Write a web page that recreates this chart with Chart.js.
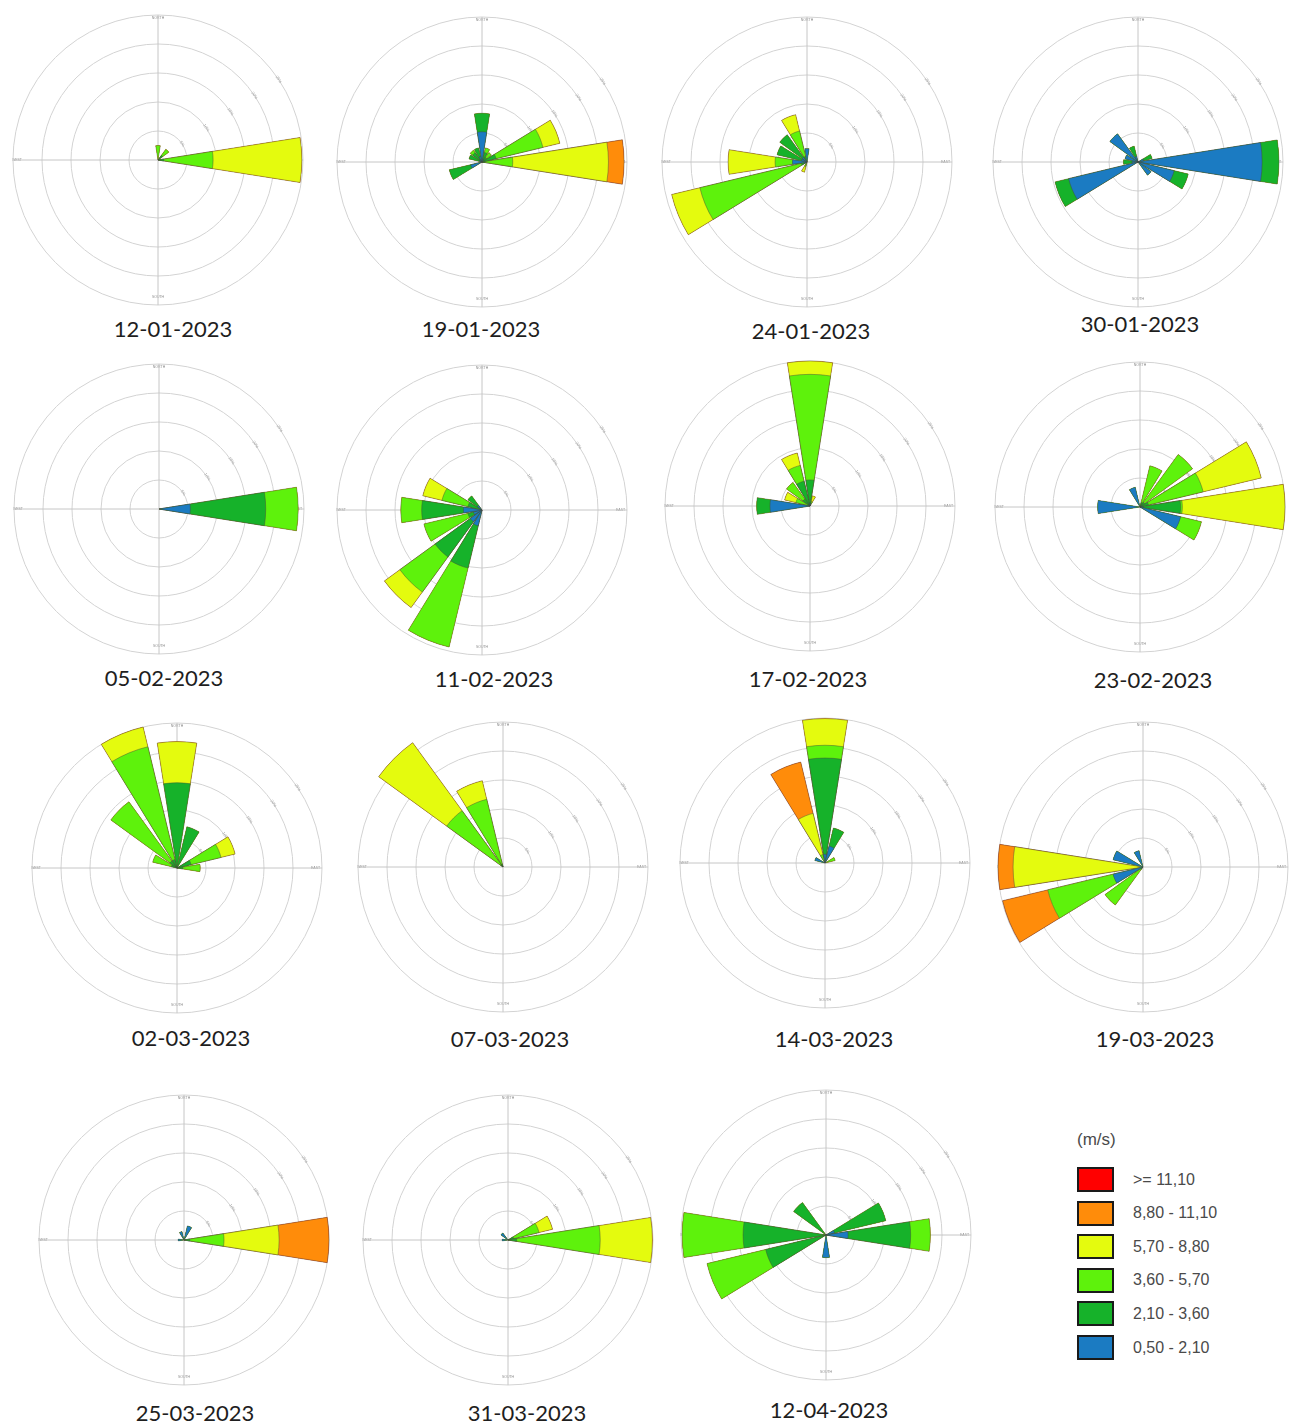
<!DOCTYPE html>
<html>
<head>
<meta charset="utf-8">
<title>Wind roses</title>
<script src="https://cdn.jsdelivr.net/npm/chart.js@4.4.1/dist/chart.umd.min.js"></script>
<style>
  html, body { margin: 0; padding: 0; background: #ffffff; }
  #page { position: relative; width: 1301px; height: 1426px; overflow: hidden; background: #ffffff; }
  canvas.rose { position: absolute; }
  .date { position: absolute; transform: translate(-50%, -50%); white-space: nowrap;
          font-family: Lato, "Open Sans", sans-serif; font-size: 22px; color: #1e1e1e; }
  .legend-title, .legend-text { position: absolute; white-space: nowrap;
          font-family: "Liberation Sans", Arial, sans-serif; color: #4a4a4a; }
  .legend-title { font-size: 17px; }
  .legend-text { font-size: 16px; transform: translateY(-50%); }
  .legend-box { position: absolute; box-sizing: border-box; border: 2px solid #1a1a1a; }
</style>
</head>
<body>
<div id="page"></div>
<script>
// ---- data -------------------------------------------------------------
const dates = ['12-01-2023', '19-01-2023', '24-01-2023', '30-01-2023',
               '05-02-2023', '11-02-2023', '17-02-2023', '23-02-2023',
               '02-03-2023', '07-03-2023', '14-03-2023', '19-03-2023',
               '25-03-2023', '31-03-2023', '12-04-2023'];

const directions = ['N', 'NNE', 'NE', 'ENE', 'E', 'ESE', 'SE', 'SSE',
                    'S', 'SSW', 'SW', 'WSW', 'W', 'WNW', 'NW', 'NNW'];

// wind speed classes (m/s), lowest first
const speedClasses = ['0,50 - 2,10', '2,10 - 3,60', '3,60 - 5,70',
                      '5,70 - 8,80', '8,80 - 11,10', '>= 11,10'];
const classColors = ['#1b7bc2', '#16b22a', '#5ef20c', '#e4fb0e', '#ff8c0a', '#ff0000'];

const compassLabels = ['NORTH', 'EAST', 'SOUTH', 'WEST'];
const ringValues = [0, 5, 10, 15, 20, 25];   // frequency rings, %

// frequency (%) by direction; columns follow speedClasses
const rose_12_01 = [
  ['N',   0,   0,   2.5, 0,    0,   0],
  ['NE',  0,   1.0, 1.3, 0,    0,   0],
  ['E',   0,   1.0, 8.5, 15.3, 0,   0]
];
const rose_19_01 = [
  ['N',   5.2, 3.2, 0,   0,    0,   0],
  ['NNE', 0.5, 1.2, 0.8, 0,    0,   0],
  ['NE',  0,   1.0, 1.0, 0,    0,   0],
  ['ENE', 0,   2.5, 8.3, 3.0,  0,   0],
  ['E',   0,   0.5, 4.8, 16.5, 2.7, 0],
  ['WSW', 2.0, 3.8, 0,   0,    0,   0],
  ['WNW', 0.5, 1.8, 0,   0,    0,   0],
  ['NW',  0.5, 1.5, 0.5, 0,    0,   0],
  ['NNW', 1.0, 1.5, 0,   0,    0,   0]
];
const rose_24_01 = [
  ['N',   2.3, 0,   0,    0,   0,   0],
  ['SSW', 0,   0,   0.8,  1.0, 0,   0],
  ['WSW', 0.5, 0.5, 18.0, 5.0, 0,   0],
  ['W',   2.5, 0,   3.0,  8.1, 0,   0],
  ['WNW', 1.0, 4.3, 0,    0,   0,   0],
  ['NW',  1.0, 4.8, 0,    0,   0,   0],
  ['NNW', 0,   1.0, 4.5,  2.9, 0,   0]
];
const rose_30_01 = [
  ['ENE', 1.0,  1.5, 0, 0, 0, 0],
  ['E',   21.4, 2.9, 0, 0, 0, 0],
  ['ESE', 6.4,  2.5, 0, 0, 0, 0],
  ['SE',  2.8,  0,   0, 0, 0, 0],
  ['WSW', 12.3, 2.4, 0, 0, 0, 0],
  ['W',   1.0,  1.5, 0, 0, 0, 0],
  ['WNW', 2.3,  0,   0, 0, 0, 0],
  ['NW',  6.0,  0,   0, 0, 0, 0],
  ['NNW', 1.0,  1.8, 0, 0, 0, 0]
];
const rose_05_02 = [
  ['E',   5.4, 13.0, 5.6, 0, 0, 0]
];
const rose_11_02 = [
  ['SSW', 2.8, 7.5, 14.0, 0,   0, 0],
  ['SW',  2.5, 7.5, 7.5,  3.3, 0, 0],
  ['WSW', 1.5, 1.0, 7.8,  0,   0, 0],
  ['W',   3.2, 7.2, 3.6,  0,   0, 0],
  ['WNW', 0,   2.5, 4.6,  3.4, 0, 0],
  ['NW',  1.0, 2.0, 0,    0,   0, 0]
];
const rose_17_02 = [
  ['N',   0.5, 4.0, 18.2, 2.3, 0, 0],
  ['NNE', 0,   0,   0.8,  1.0, 0, 0],
  ['W',   6.9, 2.3, 0,    0,   0, 0],
  ['WNW', 0,   0,   2.5,  2.0, 0, 0],
  ['NW',  0,   1.5, 3.5,  0,   0, 0],
  ['NNW', 0,   4.4, 2.8,  2.2, 0, 0]
];
const rose_23_02 = [
  ['NNE', 0,   0.8, 6.5,  0,    0, 0],
  ['NE',  0,   1.0, 10.2, 0,    0, 0],
  ['ENE', 0,   1.5, 9.7,  10.3, 0, 0],
  ['E',   0.5, 6.5, 0.3,  17.7, 0, 0],
  ['ESE', 7.2, 0,   3.7,  0,    0, 0],
  ['W',   7.3, 0,   0,    0,    0, 0],
  ['NNW', 3.5, 0,   0,    0,    0, 0]
];
const rose_02_03 = [
  ['N',   0, 14.7, 0,    7.1, 0, 0],
  ['NNE', 0, 7.3,  0,    0,   0, 0],
  ['ENE', 0, 2.5,  5.3,  2.5, 0, 0],
  ['E',   0, 1.0,  3.0,  0,   0, 0],
  ['WNW', 0, 1.0,  3.3,  0,   0, 0],
  ['NW',  0, 1.5,  12.6, 0,   0, 0],
  ['NNW', 0, 1.5,  20.0, 3.5, 0, 0]
];
const rose_07_03 = [
  ['NW',  0, 0.5, 11.5, 14.5, 0, 0],
  ['NNW', 0, 0.5, 11.5, 3.3,  0, 0]
];
const rose_14_03 = [
  ['N',   1.5, 16.6, 2.2, 4.6, 0,   0],
  ['NNE', 3.0, 3.2,  0,   0,   0,   0],
  ['ENE', 0,   0,    1.8, 0,   0,   0],
  ['WNW', 1.8, 0,    0,   0,   0,   0],
  ['NNW', 0,   0,    1.5, 7.3, 9.1, 0]
];
const rose_19_03 = [
  ['SW',  0,   0.5, 7.6,  0,    0,   0],
  ['WSW', 5.3, 0,   11.6, 0,    8.0, 0],
  ['W',   0,   0,   0,    22.4, 2.6, 0],
  ['WNW', 5.3, 0,   0,    0,    0,   0],
  ['NNW', 2.9, 0,   0,    0,    0,   0]
];
const rose_25_03 = [
  ['NNE', 2.5, 0,   0,   0,   0,   0],
  ['E',   0,   1.0, 5.9, 9.5, 8.6, 0],
  ['W',   1.0, 0,   0,   0,   0,   0],
  ['NNW', 1.5, 0,   0,   0,   0,   0]
];
const rose_31_03 = [
  ['ENE', 0,   1.0, 4.5,  2.4, 0, 0],
  ['E',   0,   1.5, 14.4, 9.0, 0, 0],
  ['W',   1.0, 0,   0,    0,   0, 0],
  ['NW',  1.5, 0,   0,    0,   0, 0]
];
const rose_12_04 = [
  ['ENE', 1.5, 9.1,  0,    0, 0, 0],
  ['E',   3.8, 10.8, 3.4,  0, 0, 0],
  ['S',   3.9, 0,    0,    0, 0, 0],
  ['WSW', 0,   10.7, 10.4, 0, 0, 0],
  ['W',   0,   14.3, 10.5, 0, 0, 0],
  ['NW',  0,   6.9,  0,    0, 0, 0]
];

const roses = [rose_12_01, rose_19_01, rose_24_01, rose_30_01,
               rose_05_02, rose_11_02, rose_17_02, rose_23_02,
               rose_02_03, rose_07_03, rose_14_03, rose_19_03,
               rose_25_03, rose_31_03, rose_12_04];

// ---- layout (page pixels) ---------------------------------------------
const placement = [
  { cx: 158,  cy: 160,  lx: 173,  ly: 328 },
  { cx: 482,  cy: 162,  lx: 481,  ly: 328 },
  { cx: 807,  cy: 162,  lx: 811,  ly: 330 },
  { cx: 1138, cy: 162,  lx: 1140, ly: 323 },
  { cx: 159,  cy: 509,  lx: 164,  ly: 677 },
  { cx: 482,  cy: 510,  lx: 494,  ly: 678 },
  { cx: 810,  cy: 506,  lx: 808,  ly: 678 },
  { cx: 1140, cy: 507,  lx: 1153, ly: 679 },
  { cx: 177,  cy: 868,  lx: 191,  ly: 1037 },
  { cx: 503,  cy: 867,  lx: 510,  ly: 1038 },
  { cx: 825,  cy: 863,  lx: 834,  ly: 1038 },
  { cx: 1143, cy: 867,  lx: 1155, ly: 1038 },
  { cx: 184,  cy: 1240, lx: 195,  ly: 1412 },
  { cx: 508,  cy: 1240, lx: 527,  ly: 1412 },
  { cx: 826,  cy: 1235, lx: 829,  ly: 1409 }
];
const CANVAS = 294;          // canvas side; gives a 145 px outer ring
const SECTOR = 360 / directions.length;
const GAP = 4.5;             // white gap between neighbouring petals, degrees
const START = 56.25;         // ring labels run along this bearing (between NE and ENE)
const FIRST = directions.indexOf('ENE');   // first petal clockwise from START

// 32 angular slots of 11.25 deg from START; the cardinal slots carry the axis lines
const slotLabels = Array(32).fill('');
slotLabels[27] = compassLabels[0];
slotLabels[3]  = compassLabels[1];
slotLabels[11] = compassLabels[2];
slotLabels[19] = compassLabels[3];
// compass words sit just inside the outer ring
const labelPadding = { NORTH: -7, EAST: -13, SOUTH: -12, WEST: -11 };

// every direction becomes [half gap, petal, half gap]
const arcAngles = [];
for (let j = 0; j < directions.length; j++) arcAngles.push(GAP / 2, SECTOR - GAP, GAP / 2);

function stacked(rows) {
  const table = directions.map(() => speedClasses.map(() => 0));
  rows.forEach(([dir, ...vals]) => {
    const i = directions.indexOf(dir);
    vals.forEach((v, k) => { table[i][k] = v; });
  });
  return speedClasses.map((_, k) => {
    const seq = [];
    for (let j = 0; j < directions.length; j++) {
      const row = table[(FIRST + j) % directions.length];
      const total = row.slice(0, k + 1).reduce((a, b) => a + b, 0);
      const own = row[k];
      seq.push({ total: 0, own: 0 }, { total, own }, { total: 0, own: 0 });
    }
    return seq;
  });
}

// ---- drawing ----------------------------------------------------------
const page = document.getElementById('page');

roses.forEach((rows, n) => {
  const canvas = document.createElement('canvas');
  canvas.className = 'rose';
  canvas.width = CANVAS;
  canvas.height = CANVAS;
  page.appendChild(canvas);

  const layers = stacked(rows);
  const datasets = layers.map((seq, k) => ({
    label: speedClasses[k],
    data: seq.map(s => s.total),
    backgroundColor: classColors[k],
    borderColor: 'rgba(70, 70, 60, 0.55)',
    borderWidth: ctx => (ctx.dataIndex % 3 === 1 && seq[ctx.dataIndex].own > 0) ? 0.8 : 0,
    angle: ctx => arcAngles[ctx.dataIndex]
  }));

  const chart = new Chart(canvas, {
    type: 'polarArea',
    data: { labels: slotLabels, datasets },
    options: {
      responsive: false,
      animation: false,
      events: [],
      layout: { padding: 0 },
      plugins: { legend: { display: false }, tooltip: { enabled: false } },
      scales: {
        r: {
          min: ringValues[0],
          max: ringValues[ringValues.length - 1],
          startAngle: START,
          ticks: {
            stepSize: ringValues[1] - ringValues[0],
            showLabelBackdrop: false,
            backdropPadding: 0,
            color: '#a0a0a0',
            font: { size: 4, family: 'Liberation Sans' },
            callback: v => v + '%'
          },
          grid: { circular: true, color: '#d3d3d3', lineWidth: 1 },
          angleLines: {
            display: true,
            color: '#c6c6c6',
            lineWidth: ctx => slotLabels[ctx.index] ? 1 : 0
          },
          pointLabels: {
            display: true,
            color: '#8c8c8c',
            font: { size: 3.5, family: 'Liberation Sans' },
            padding: ctx => labelPadding[slotLabels[ctx.index]] || -7
          }
        }
      }
    }
  });

  // place the canvas so the rose centre lands on its page position
  const r = chart.scales.r;
  canvas.style.left = (placement[n].cx - r.xCenter) + 'px';
  canvas.style.top = (placement[n].cy - r.yCenter) + 'px';

  const label = document.createElement('div');
  label.className = 'date';
  label.textContent = dates[n];
  label.style.left = placement[n].lx + 'px';
  label.style.top = placement[n].ly + 'px';
  page.appendChild(label);
});

// ---- speed legend -----------------------------------------------------
const title = document.createElement('div');
title.className = 'legend-title';
title.textContent = '(m/s)';
title.style.left = '1077px';
title.style.top = '1130px';
page.appendChild(title);

for (let i = 0; i < speedClasses.length; i++) {
  const k = speedClasses.length - 1 - i;       // fastest class on top
  const top = 1167 + i * 33.6;
  const box = document.createElement('div');
  box.className = 'legend-box';
  box.style.left = '1077px';
  box.style.top = top + 'px';
  box.style.width = '37px';
  box.style.height = '25px';
  box.style.background = classColors[k];
  page.appendChild(box);
  const text = document.createElement('div');
  text.className = 'legend-text';
  text.textContent = speedClasses[k];
  text.style.left = '1133px';
  text.style.top = (top + 12.5) + 'px';
  page.appendChild(text);
}
</script>
</body>
</html>
